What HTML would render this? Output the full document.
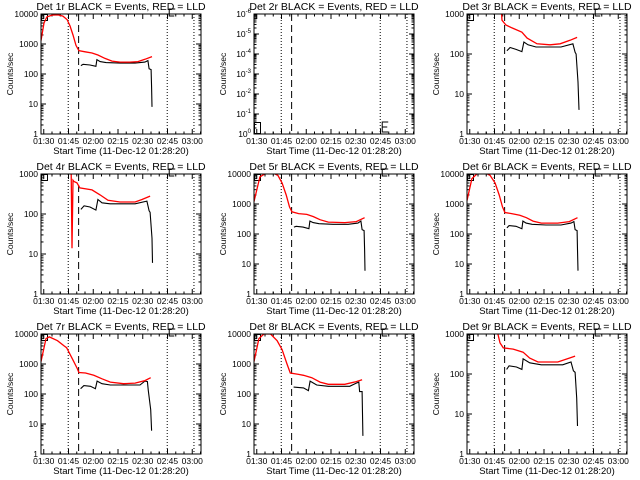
<!DOCTYPE html>
<html><head><meta charset="utf-8">
<style>
html,body{margin:0;padding:0;background:#fff;}
svg{display:block;font-family:"Liberation Sans",sans-serif;}
</style></head>
<body>
<svg id="chart" width="640" height="480" viewBox="0 0 640 480" xmlns="http://www.w3.org/2000/svg">
<rect x="0" y="0" width="640" height="480" fill="#fff"/>
</svg>
<script>
// Time in minutes after 01:28:20; values in counts/sec
const xTickLabels = ["01:30","01:45","02:00","02:15","02:30","02:45","03:00"];
const xTickMinutes = [1.67,16.67,31.67,46.67,61.67,76.67,91.67];
const markerDotted = [16.5, 76.5, 92.7];
const markerDashed = [22.8];

const p1RedT = [0,1.8,3.6,6.7,10.3,13.3,15.8,17.6,19.4,21.2,23,26.7,30.9,34.5,38.8,43,47.9,53.9,58.8,63,67.3];
const p1RedV = [1300,5000,8000,9200,9300,8500,6500,4000,2000,900,600,550,500,430,330,270,250,250,260,310,380];
const p1BlkT = [24.2,25.5,29.7,33.3,33.9,35.8,39.4,47.9,57,63,64.8,65.5,66.7,67,67.3];
const p1BlkV = [190,210,200,180,300,260,240,230,230,250,280,150,140,35,8];

const p3RedT = [20.5,21.2,23.6,27.3,33.3,36.4,42.4,50.3,56.4,62.4,66.7];
const p3RedV = [2000,700,530,450,350,250,180,170,180,220,260];
const p3BlkT = [24.2,26.1,29.7,33.3,34.5,37,41.8,57,64.2,65.5,66.1,67.3,67.9];
const p3BlkV = [120,145,130,115,200,170,150,150,180,110,100,20,4];

const p4RedT = [18.2,18.8,19.4,20,21.8,23.6,30.9,35.8,40.6,47.9,57,61.2,66.1];
const p4RedV = [3000,14,700,650,600,450,400,300,220,200,200,230,280];
const p4BlkT = [24.2,26.1,29.7,33.3,34.5,37,41.8,57,64.2,65.5,66.1,67.3,67.6];
const p4BlkV = [130,160,150,125,230,190,180,180,210,120,110,25,6];

const p5RedT = [0,3.6,7,12,14.5,17,19.5,21.5,23,27,32,36,40,45,55,62,67];
const p5RedV = [1200,8000,10500,10500,9000,5000,2000,800,550,480,450,380,300,250,240,260,350];
const p5BlkT = [24.2,25.5,29.7,33.3,33.9,35.8,39.4,47.9,57,63,64.8,65.5,66.7,67,67.3];
const p5BlkV = [170,180,170,150,270,240,220,210,210,230,270,140,130,30,6];

const p6RedT = [0,3,6,10.9,14,17,19.5,21.5,23,27,32,36,40,45,55,62,67];
const p6RedV = [1300,7000,10000,11000,9000,5000,2000,800,520,480,420,350,270,230,230,260,350];
const p6BlkT = [24.2,25.5,29.7,33.3,33.9,35.8,39.4,47.9,57,63,64.8,65.5,66.7,67,67.3];
const p6BlkV = [160,190,180,150,270,230,210,200,200,230,260,140,130,30,6];

const p7RedT = [0,3,5,10,14,15.5,19,22,23,27,32,37,42,50,57,63,66.5];
const p7RedV = [1200,7000,8000,6000,4000,3500,1500,700,520,500,420,320,250,220,230,280,350];
const p7BlkT = [24,26,30,33,34,37,42,60,63,64.5,65,66.5,67];
const p7BlkV = [150,190,180,150,270,220,200,200,270,260,130,30,6];

const p8RedT = [0,3,6,10,14,17,20,22,27,30,35,40,45,55,62,65.5];
const p8RedV = [1200,7000,10000,10000,6000,3000,1000,500,450,420,350,250,210,210,260,300];
const p8BlkT = [24,30,33,34,38,45,58,62,63.5,64,65.5,66];
const p8BlkV = [170,160,130,270,200,180,180,230,250,120,120,4];

const p9RedT = [18.5,20,22,28,34,38,43,55,62,65.5];
const p9RedV = [1100,600,450,420,350,250,200,200,250,280];
const p9BlkT = [24,25.5,30,33.3,34,38,45,58,63,64.5,65.5,66.5,67];
const p9BlkV = [130,160,150,130,240,190,170,170,200,120,110,25,5];

const panels = [
 {det:1,lo:0,hi:4,red:[p1RedT,p1RedV],blk:[p1BlkT,p1BlkV]},
 {det:2,lo:0,hi:6,neg:true,red:null,blk:null},
 {det:3,lo:0,hi:3,red:[p3RedT,p3RedV],blk:[p3BlkT,p3BlkV]},
 {det:4,lo:0,hi:3,red:[p4RedT,p4RedV],blk:[p4BlkT,p4BlkV]},
 {det:5,lo:0,hi:4,red:[p5RedT,p5RedV],blk:[p5BlkT,p5BlkV]},
 {det:6,lo:0,hi:4,red:[p6RedT,p6RedV],blk:[p6BlkT,p6BlkV]},
 {det:7,lo:0,hi:4,red:[p7RedT,p7RedV],blk:[p7BlkT,p7BlkV]},
 {det:8,lo:0,hi:4,red:[p8RedT,p8RedV],blk:[p8BlkT,p8BlkV]},
 {det:9,lo:0,hi:3,red:[p9RedT,p9RedV],blk:[p9BlkT,p9BlkV]}
];

const NS="http://www.w3.org/2000/svg";
const svg=document.getElementById('chart');
function mk(tag,attrs,parent){const e=document.createElementNS(NS,tag);for(const k in attrs)e.setAttribute(k,attrs[k]);(parent||svg).appendChild(e);return e;}

const defs=mk('defs',{});
panels.forEach((p,i)=>{
  const ox=(i%3)*213, oy=Math.floor(i/3)*160;
  const L=ox+41,R=ox+201,T=oy+14,B=oy+134;
  const xs=t=>L+t*1.65;
  const ys=v=>B-(Math.log10(v)-p.lo)/(p.hi-p.lo)*(B-T);
  const g=mk('g',{});
  
  
  const cp=mk('clipPath',{id:'cp'+i},defs);
  mk('rect',{x:L,y:T,width:R-L,height:B-T},cp);

  const title=mk('text',{x:ox+121,y:oy+10,'text-anchor':'middle','font-size':'10.5'},g);
  title.textContent='Det '+p.det+'r BLACK = Events, RED = LLD';
  
  

  const yl=mk('text',{x:0,y:0,'text-anchor':'middle','font-size':'8.5',transform:'translate('+(ox+13)+','+(oy+74)+') rotate(-90)'},g);
  yl.textContent='Counts/sec';
  
  

  const xl=mk('text',{x:ox+121,y:oy+154,'text-anchor':'middle','font-size':'9.5'},g);
  xl.textContent='Start Time (11-Dec-12 01:28:20)';
  
  

  // x ticks
  xTickMinutes.forEach((m,k)=>{
    const x=xs(m);
    mk('line',{x1:x,x2:x,y1:B,y2:B-5,stroke:'#000','stroke-width':1},g);
    mk('line',{x1:x,x2:x,y1:T,y2:T+5,stroke:'#000','stroke-width':1},g);
    const tl=mk('text',{x:x,y:B+10,'text-anchor':'middle','font-size':'8.5'},g);
    tl.textContent=xTickLabels[k];
    
    
    for(let s=1;s<3;s++){const xm=xs(m+5*s);if(xm<R){mk('line',{x1:xm,x2:xm,y1:B,y2:B-2.5,stroke:'#000'},g);mk('line',{x1:xm,x2:xm,y1:T,y2:T+2.5,stroke:'#000'},g);}}
    const xm0=xs(m-5);if(m-5>0){mk('line',{x1:xm0,x2:xm0,y1:B,y2:B-2.5,stroke:'#000'},g);}
  });
  // y ticks
  for(let d=p.lo;d<=p.hi;d++){
    const y=B-(d-p.lo)/(p.hi-p.lo)*(B-T);
    mk('line',{x1:L,x2:L+5,y1:y,y2:y,stroke:'#000'},g);
    mk('line',{x1:R,x2:R-5,y1:y,y2:y,stroke:'#000'},g);
    const t=mk('text',{x:L-3,y:y+3,'text-anchor':'end','font-size':'8.5'},g);
    
    
    if(p.neg){
      t.textContent='10';
      const sp=mk('tspan',{dy:-4,'font-size':'6'},t);
      sp.textContent=(d===0?'0':'-'+d);
    } else t.textContent=String(Math.pow(10,d));
    if(d<p.hi){for(let m=2;m<10;m++){const ym=y-Math.log10(m)/(p.hi-p.lo)*(B-T);mk('line',{x1:L,x2:L+2.5,y1:ym,y2:ym,stroke:'#000'},g);mk('line',{x1:R,x2:R-2.5,y1:ym,y2:ym,stroke:'#000'},g);}}
  }
  // markers
  markerDotted.forEach(m=>{const x=xs(m);const l=mk('line',{x1:x,x2:x,y1:T,y2:B,stroke:'#000','stroke-dasharray':'1,2'},g);});
  markerDashed.forEach(m=>{const x=xs(m);const l=mk('line',{x1:x,x2:x,y1:T,y2:B,stroke:'#000','stroke-dasharray':'7,4'},g);});
  // B/E markers
  const by=p.neg?B-12:T;
  const bm=mk('rect',{x:L+0.5,y:by+0.5,width:6,height:p.neg?11:6,fill:'none',stroke:'#000'},g);
  
  
  const ex=xs(76.5)+2;
  const ep=p.neg?`M${ex+6},${B-12} L${ex},${B-12} L${ex},${B-2} L${ex+6},${B-2} M${ex},${B-7} L${ex+5},${B-7}`:`M${ex+6},${T-5} L${ex},${T-5} L${ex},${T+2} L${ex+5},${T+2}`;
  const em=mk('path',{d:ep,fill:'none',stroke:'#000'},g);
  
  
  // series
  const dg=mk('g',{'clip-path':'url(#cp'+i+')'},g);
  if(p.blk){
    const d=p.blk[0].map((t,k)=>(k?'L':'M')+xs(t).toFixed(1)+','+ys(p.blk[1][k]).toFixed(1)).join(' ');
    const pl=mk('path',{d:d,fill:'none',stroke:'#000','stroke-width':1.1},dg);
    
    
  }
  if(p.red){
    const d=p.red[0].map((t,k)=>(k?'L':'M')+xs(t).toFixed(1)+','+ys(p.red[1][k]).toFixed(1)).join(' ');
    const pl=mk('path',{d:d,fill:'none',stroke:'#f00','stroke-width':1.3},dg);
    
    
  }
  const fr=mk('rect',{x:L,y:T,width:R-L,height:B-T,fill:'none',stroke:'#000','stroke-width':1},g);
  
  
});
</script>
</body></html>
